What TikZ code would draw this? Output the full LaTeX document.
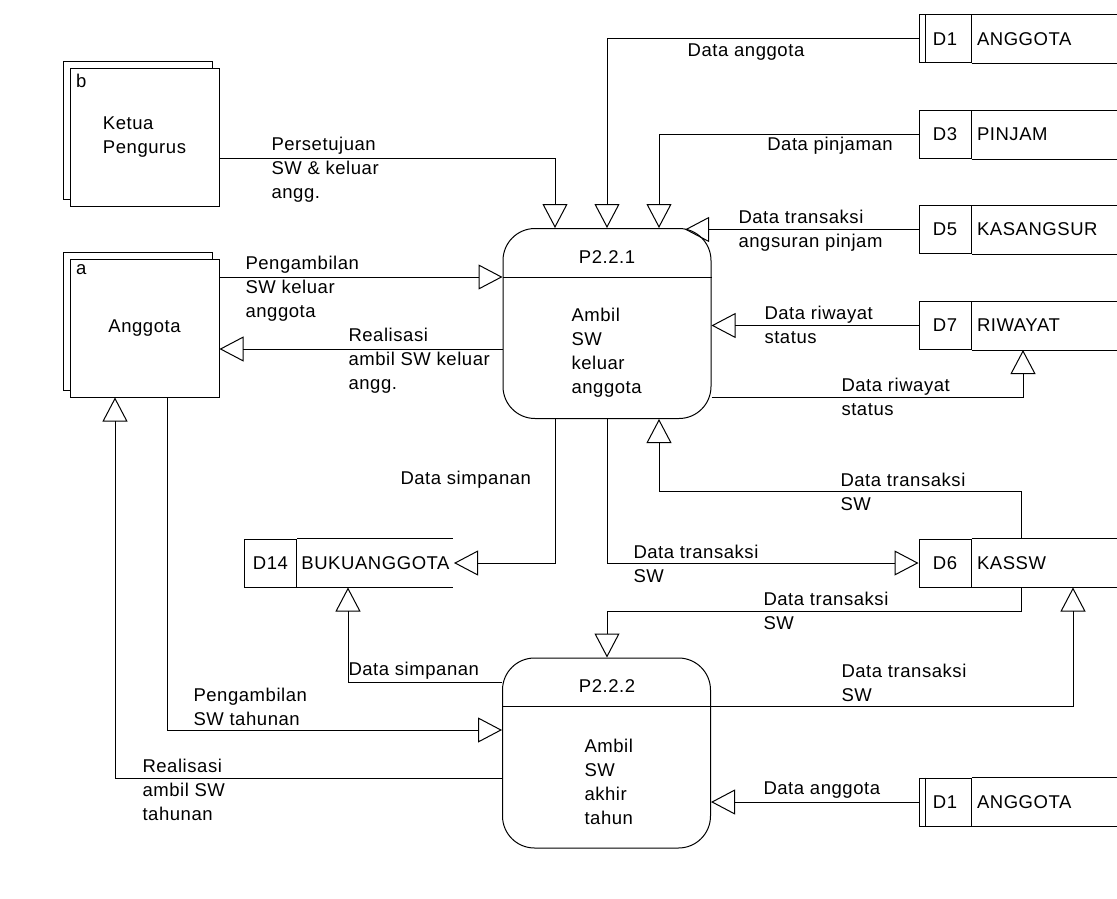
\documentclass[tikz,border=0pt]{standalone}
\usepackage{fontspec}
\setmainfont{Liberation Sans}[LetterSpace=3]
\usetikzlibrary{arrows.meta,shadows}

\begin{document}
\begin{tikzpicture}[
			x=1pt, y=-1pt,
			font=\fontsize{18.5}{24}\selectfont,
			line width=1pt,
			entity/.style = {draw, fill=white, minimum width=149pt, minimum height=138pt, align=left,
				copy shadow={shadow xshift=-7pt, shadow yshift=7pt}},
			proc/.style = {draw, rounded corners=32pt, minimum width=208pt, minimum height=190pt},
			storeid/.style = {draw, minimum width=52pt, minimum height=48pt, inner sep=0pt},
			storename/.style = {anchor=west, inner sep=5pt},
			lbl/.style = {align=left, anchor=west, inner sep=0pt},
			flow/.style = {-{Triangle[open, length=24pt, width=25pt]}}
		]
		\useasboundingbox (0,0) rectangle (1117,899);
		% external entities
		\node[entity, label={[anchor=north west, inner sep=6pt]north west:b}] (ketua) at (144.5,137.5) {Ketua\\Pengurus};
		\node[entity, label={[anchor=north west, inner sep=6pt]north west:a}] (anggota) at (144.5,328) {Anggota};
		% processes
		\node[proc] (p221) at (607,323.5) {};
		\node (p221id) at (607,257) {P2.2.1};
		\draw (p221.west |- 0,277) -- (p221.east |- 0,277);
		\node[lbl] (p221txt) at (571,352.5) {Ambil\\SW\\keluar\\anggota};
		\node[proc] (p222) at (606.5,753) {};
		\node (p222id) at (607,686) {P2.2.2};
		\draw (p222.west |- 0,706) -- (p222.east |- 0,706);
		\node[lbl] (p222txt) at (584,782) {Ambil\\SW\\akhir\\tahun};
		% data stores
		\node[storeid] (d1) at (945,39) {D1};
		\node[storename] (d1name) at (d1.east) {ANGGOTA};
		\draw ([xshift=7pt]d1.north west) -- ([xshift=7pt]d1.south west);
		\draw (d1.north east) -- ++(160,0);
		\draw (d1.south east) -- ++(160,0);
		\node[storeid] (d3) at (945,134.5) {D3};
		\node[storename] (d3name) at (d3.east) {PINJAM};
		\draw (d3.north east) -- ++(160,0);
		\draw (d3.south east) -- ++(160,0);
		\node[storeid] (d5) at (945,229.5) {D5};
		\node[storename] (d5name) at (d5.east) {KASANGSUR};
		\draw (d5.north east) -- ++(160,0);
		\draw (d5.south east) -- ++(160,0);
		\node[storeid] (d7) at (945,325.5) {D7};
		\node[storename] (d7name) at (d7.east) {RIWAYAT};
		\draw (d7.north east) -- ++(160,0);
		\draw (d7.south east) -- ++(160,0);
		\node[storeid] (d6) at (945,563) {D6};
		\node[storename] (d6name) at (d6.east) {KASSW};
		\draw (d6.north east) -- ++(160,0);
		\draw (d6.south east) -- ++(160,0);
		\node[storeid] (d1b) at (945,802) {D1};
		\node[storename] (d1bname) at (d1b.east) {ANGGOTA};
		\draw ([xshift=7pt]d1b.north west) -- ([xshift=7pt]d1b.south west);
		\draw (d1b.north east) -- ++(160,0);
		\draw (d1b.south east) -- ++(160,0);
		\node[storeid] (d14) at (270.5,563) {D14};
		\node[anchor=west, minimum width=156pt, inner sep=0pt] (d14name) at (d14.east) {BUKUANGGOTA};
		\draw (d14.north east) -- ++(156,0);
		\draw (d14.south east) -- ++(156,0);
		% flows of P2.2.1
		\draw[flow] (ketua.east |- 0,158) -| (555,0 |- p221.north);
		\draw[flow] (d1.west) -| (607,0 |- p221.north);
		\draw[flow] (d3.west) -| (659,0 |- p221.north);
		\draw[flow] (d5.west) -- (d5.west -| 685,0);
		\draw[flow] (d7.west) -- (p221.east |- d7.west);
		\draw[flow] (p221.east |- 0,397) -| (1023,0 |- d7.south);
		\draw[flow] (anggota.east |- 0,277) -- (p221.west |- 0,277);
		\draw[flow] (p221.west |- 0,349) -- (anggota.east |- 0,349);
		\draw[flow] (555,0 |- p221.south) |- (d14name.east);
		\draw[flow] (607,0 |- p221.south) |- (d6.west);
		\draw[flow] (d6.north -| 1021,0) -- ++(0,-47) -| (659,0 |- p221.south);
		% flows of P2.2.2
		\draw[flow] (d6.south -| 1021,0) -- ++(0,24) -| (607,0 |- p222.north);
		\draw[flow] (p222.east |- 0,706) -| (1073,0 |- d6.south);
		\draw[flow] (p222.west |- 0,682) -| (348,0 |- d14.south);
		\draw[flow] (167,0 |- anggota.south) |- (p222.west |- 0,730);
		\draw[flow] (p222.west |- 0,778) -| (115,0 |- anggota.south);
		\draw[flow] (d1b.west) -- (p222.east |- d1b.west);
		% flow labels
		\node[lbl] (lpersetujuan) at (271,170) {Persetujuan\\SW \& keluar\\angg.};
		\node (ldataanggota) at (746,52) {Data anggota};
		\node (lpinjaman) at (830,146) {Data pinjaman};
		\node[lbl] (langsuran) at (738,230.5) {Data transaksi\\angsuran pinjam};
		\node[lbl] (lambilkeluar) at (245,289) {Pengambilan\\SW keluar\\anggota};
		\node[lbl] (lrealkeluar) at (348,361) {Realisasi\\ambil SW keluar\\angg.};
		\node[lbl] (lriwayatin) at (764,325) {Data riwayat\\status};
		\node[lbl] (lriwayatout) at (841,397) {Data riwayat\\status};
		\node[lbl] (lsimpanan) at (400,480) {Data simpanan};
		\node[lbl] (lswmasuk) at (840,491.5) {Data transaksi\\SW};
		\node[lbl] (lswkeluar) at (633,563.5) {Data transaksi\\SW};
		\node[lbl] (lswtahun) at (763,610.5) {Data transaksi\\SW};
		\node[lbl] (lsimpanantahun) at (348,671) {Data simpanan};
		\node[lbl] (lswtahunout) at (841,683) {Data transaksi\\SW};
		\node[lbl] (lambiltahun) at (193,707) {Pengambilan\\SW tahunan};
		\node[lbl] (lrealtahun) at (142,790) {Realisasi\\ambil SW\\tahunan};
		\node[lbl] (ldataanggota2) at (763,790) {Data anggota};
	\end{tikzpicture}
\end{document}
